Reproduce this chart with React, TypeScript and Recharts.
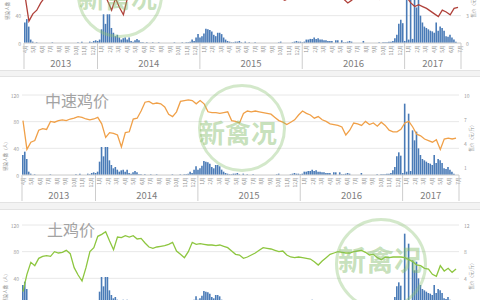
import React from 'react';
import { ComposedChart, Bar, Line, XAxis, YAxis, CartesianGrid } from 'recharts';

// 每周感染人数（2013-04 中旬起，共 222 周）
const CASES = [
  30, 35, 24, 5, 2, 0, 1, 0, 0, 0, 0, 0, 0, 0, 1, 0, 0, 0, 0, 0,
  0, 0, 0, 0, 0, 0, 0, 1, 0, 2, 0, 0, 0, 2, 1, 3, 4, 3, 5, 20,
  42, 28, 42, 42, 22, 15, 10, 12, 8, 5, 7, 8, 5, 8, 3, 2, 4, 6, 4, 1,
  1, 0, 1, 0, 0, 1, 0, 0, 1, 0, 0, 0, 0, 0, 0, 0, 1, 0, 0, 0,
  1, 0, 1, 1, 2, 5, 3, 8, 13, 8, 10, 14, 21, 20, 19, 17, 12, 10, 15, 15,
  13, 8, 5, 3, 2, 1, 1, 2, 2, 3, 1, 0, 2, 0, 1, 0, 0, 1, 0, 0,
  0, 0, 0, 0, 0, 0, 0, 0, 0, 1, 2, 0, 0, 0, 0, 0, 1, 2, 3, 2,
  2, 1, 2, 5, 5, 6, 6, 8, 6, 7, 5, 5, 4, 4, 3, 3, 3, 0, 4, 4,
  0, 4, 1, 1, 2, 3, 2, 0, 0, 0, 0, 0, 3, 0, 0, 0, 0, 0, 0, 0,
  1, 0, 1, 1, 1, 2, 2, 3, 7, 12, 28, 34, 29, 3, 107, 5, 92, 6, 67, 52,
  65, 40, 30, 24, 22, 20, 18, 17, 15, 30, 18, 24, 22, 18, 10, 9, 12, 8, 5, 2, 0, 0,
];

// 售价（元/斤），每两周一个点
const FAST_PRICE = [
  5.2, 2.4, 3.2, 3.6, 4.4, 5.0, 5.1, 5.8, 5.9, 6.0,
  6.1, 6.0, 6.2, 6.3, 6.4, 6.3, 6.2, 6.1, 6.2, 6.3,
  5.6, 4.6, 3.6, 4.9, 3.9, 3.1, 4.9, 5.3, 5.8, 6.0,
  6.6, 7.2, 7.4, 7.1, 7.2, 7.0, 6.8, 6.2, 6.0, 6.5,
  7.3, 7.4, 7.5, 7.3, 7.0, 7.3, 7.0, 6.4, 6.3, 6.3,
  6.2, 6.3, 6.4, 5.5, 5.4, 5.3, 6.1, 6.4, 6.3, 6.4,
  6.3, 6.2, 6.1, 6.0, 5.7, 4.9, 4.7, 4.9, 5.3, 5.6,
  6.0, 6.4, 6.2, 6.0, 5.7, 5.8, 5.5, 5.4, 5.2, 5.1,
  5.0, 4.8, 4.4, 4.7, 5.2, 5.2, 5.0, 5.3, 5.1, 5.2,
  4.8, 5.2, 5.0, 5.0, 5.0, 5.1, 5.2, 5.0, 4.4, 4.0,
  4.2, 4.0, 3.8, 3.5, 3.2, 2.9, 3.6, 3.4, 3.1, 3.8, 3.9,
];

const MID_PRICE = [
  6.8, 3.2, 4.1, 4.3, 5.6, 5.8, 5.7, 6.7, 6.6, 6.8,
  6.9, 6.8, 7.0, 7.1, 7.3, 7.2, 7.0, 6.9, 7.0, 7.2,
  6.4, 4.7, 5.3, 5.2, 5.0, 3.5, 5.3, 5.4, 7.0, 7.1,
  8.0, 9.1, 9.2, 8.9, 9.0, 8.9, 8.5, 7.6, 7.3, 7.9,
  9.2, 9.3, 9.4, 9.3, 8.9, 9.3, 8.9, 7.9, 7.8, 7.8,
  7.7, 7.8, 7.9, 6.8, 6.7, 6.5, 7.7, 8.0, 7.9, 8.0,
  7.9, 7.8, 7.7, 7.6, 7.2, 6.8, 6.6, 6.3, 6.6, 6.9,
  7.5, 8.0, 7.7, 7.5, 7.1, 7.3, 6.9, 6.7, 6.4, 6.3,
  6.2, 6.0, 5.0, 5.6, 6.5, 6.4, 6.2, 6.7, 6.3, 6.5,
  6.1, 6.6, 6.2, 5.6, 5.4, 5.4, 5.7, 6.5, 6.7, 6.0,
  5.1, 4.9, 4.5, 4.3, 4.1, 4.4, 3.2, 4.5, 4.6, 4.5, 4.6,
];

const NATIVE_PRICE = [
  2.0, 4.6, 6.4, 5.9, 7.0, 7.3, 7.4, 7.3, 8.0, 7.8,
  7.9, 8.2, 7.7, 5.6, 4.5, 3.6, 5.6, 8.0, 8.6, 10.3,
  10.6, 11.0, 9.6, 8.3, 10.2, 10.1, 10.4, 10.2, 10.4, 9.9,
  10.0, 9.3, 8.7, 8.5, 8.7, 8.8, 8.9, 9.1, 9.4, 8.1,
  7.6, 7.1, 8.0, 9.4, 9.1, 9.2, 9.1, 9.0, 9.0, 8.9,
  9.0, 8.8, 8.6, 8.1, 7.6, 7.5, 7.0, 7.2, 7.5, 7.8,
  8.2, 8.6, 8.5, 8.4, 8.2, 8.0, 8.1, 7.5, 7.2, 7.1,
  7.2, 7.1, 7.0, 6.9, 6.5, 6.0, 6.6, 7.1, 7.6, 7.8,
  8.0, 7.9, 7.8, 7.8, 8.0, 8.1, 8.2, 7.9, 7.5, 7.6,
  7.1, 6.8, 7.2, 7.1, 7.2, 7.2, 7.2, 7.1, 6.8, 6.5,
  6.0, 5.9, 5.5, 5.4, 4.6, 4.3, 5.9, 5.1, 5.5, 4.9, 5.4,
];

// 月份标签（从 2013 年 4 月起）
const MONTH_LABELS = [
  '4月', '5月', '6月', '7月', '8月', '9月', '10月', '11月', '12月',
  '1月', '2月', '3月', '4月', '5月', '6月', '7月', '8月', '9月', '10月', '11月', '12月',
  '1月', '2月', '3月', '4月', '5月', '6月', '7月', '8月', '9月', '10月', '11月', '12月',
  '1月', '2月', '3月', '4月', '5月', '6月', '7月', '8月', '9月', '10月', '11月', '12月',
  '1月', '2月', '3月', '4月', '5月', '6月', '7月',
];
const YEARS = ['2013', '2014', '2015', '2016', '2017'];
const LEFT_TICKS = [0, 20, 40, 60, 80, 100, 120];

const START_MONTH = 3.38; // 2013-04-12，以 2013-01 为 0
const WEEKS_PER_MONTH = 52 / 12;
const TOTAL_WEEKS = CASES.length;

const CARD_H = 125;
const X_AXIS_H = 27;
const LEFT_W = 22;
const RIGHT_W = 21;
const CHART_W = 480;
const PLOT_W = CHART_W - LEFT_W - RIGHT_W;
const BAND = PLOT_W / TOTAL_WEEKS;

const ROWS = CASES.map((cases, i) => ({
  t: i,
  cases,
  fast: i % 2 === 0 ? FAST_PRICE[i / 2] : null,
  mid: i % 2 === 0 ? MID_PRICE[i / 2] : null,
  native: i % 2 === 0 ? NATIVE_PRICE[i / 2] : null,
}));

type TickItem = { v: number; kind: 'month' | 'sep' | 'year'; label: string };

const yearEdges = [
  0,
  ...YEARS.slice(1).map((_, j) => (12 * (j + 1) - START_MONTH) * WEEKS_PER_MONTH),
  TOTAL_WEEKS,
];
const tickItems: TickItem[] = [
  ...MONTH_LABELS.map((label, n) => ({ v: n * WEEKS_PER_MONTH, kind: 'month' as const, label })),
  ...yearEdges.map((v) => ({ v, kind: 'sep' as const, label: '' })),
  ...YEARS.map((label, j) => ({ v: (yearEdges[j] + yearEdges[j + 1]) / 2, kind: 'year' as const, label })),
];
const TICKS_BY_ROW: TickItem[][] = CASES.map(() => []);
tickItems.forEach((it) => {
  const row = Math.min(TOTAL_WEEKS - 1, Math.floor(it.v));
  TICKS_BY_ROW[row].push(it);
});

const PANELS = [
  {
    key: 'fast', title: '', top: -55, plotTop: 16, plotHeight: 82, shift: 2,
    rightMax: 9, rightTicks: [0, 1, 2, 3, 4, 5, 6, 7, 8, 9], color: '#b0413a',
    titleLeft: 45, titleTop: 14, leftLabelY: 43, rightLabelY: 42,
  },
  {
    key: 'mid', title: '中速鸡价', top: 77, plotTop: 18, plotHeight: 80, shift: 0,
    rightMax: 10, rightTicks: [0, 1, 2, 3, 4, 5, 6, 7, 8, 9, 10], color: '#f0a048',
    titleLeft: 45, titleTop: 14, leftLabelY: 60, rightLabelY: 42,
  },
  {
    key: 'native', title: '土鸡价', top: 210, plotTop: 15, plotHeight: 80, shift: 0,
    rightMax: 12, rightTicks: [0, 2, 4, 6, 8, 10, 12], color: '#8dc63f',
    titleLeft: 47, titleTop: 10, leftLabelY: 62, rightLabelY: 50,
  },
];

const FONT = '"Noto Sans CJK SC", "Noto Sans", sans-serif';

function makeXTick(plotBottom: number) {
  return function XTick(props: any) {
    const row = props.index as number;
    const items = TICKS_BY_ROW[row] || [];
    return (
      <g>
        {items.map((it, j) => {
          const x = props.x + (it.v - (row + 0.5)) * BAND;
          if (it.kind === 'sep') {
            return <line key={j} x1={x} x2={x} y1={plotBottom} y2={plotBottom + 26} stroke="#cdcdcd" />;
          }
          if (it.kind === 'year') {
            return (
              <text key={j} x={x} y={plotBottom + 20} textAnchor="middle" dominantBaseline="central"
                fontSize={9.5} fill="#7d7d7d" fontFamily={FONT}>{it.label}</text>
            );
          }
          return (
            <text key={j} transform={`translate(${x},${plotBottom + 2}) rotate(-90)`} textAnchor="end"
              dominantBaseline="central" fontSize={5} fill="#8f8f8f" fontFamily={FONT}>{it.label}</text>
          );
        })}
      </g>
    );
  };
}

const leftTick = (props: any) => (
  <text x={LEFT_W - 3} y={props.y} textAnchor="end" dominantBaseline="central" fontSize={5} fill="#9b9b9b" fontFamily={FONT}>
    {props.payload.value}
  </text>
);

const rightTick = (props: any) => (
  <text x={CHART_W - RIGHT_W + 5} y={props.y} textAnchor="start" dominantBaseline="central" fontSize={5} fill="#9b9b9b" fontFamily={FONT}>
    {props.payload.value}
  </text>
);

function PricePanel({ cfg }: { cfg: (typeof PANELS)[number] }) {
  const plotBottom = cfg.plotTop + cfg.plotHeight;
  const bottomMargin = CARD_H - plotBottom - X_AXIS_H;
  return (
    <div style={{
      position: 'absolute', left: 0, top: cfg.top, width: CHART_W, height: CARD_H,
      background: '#fff', boxShadow: '0 0 0 1px #e3e3e3',
    }}>
      <div style={{ position: 'absolute', left: cfg.shift, top: 0 }}>
        <ComposedChart width={CHART_W} height={CARD_H} data={ROWS}
          margin={{ top: cfg.plotTop, right: 0, bottom: bottomMargin, left: 0 }}>
          <CartesianGrid yAxisId="left" vertical={false} stroke="#e8e8e8" />
          <XAxis dataKey="t" type="category" interval={0} height={X_AXIS_H} tickLine={false}
            axisLine={{ stroke: '#d6d6d6' }} tick={makeXTick(plotBottom)} />
          <YAxis yAxisId="left" domain={[0, 120]} ticks={LEFT_TICKS} width={LEFT_W}
            axisLine={false} tickLine={false} tick={leftTick} />
          <YAxis yAxisId="right" orientation="right" domain={[0, cfg.rightMax]} ticks={cfg.rightTicks}
            width={RIGHT_W} axisLine={false} tickLine={false} tick={rightTick} />
          <Bar yAxisId="left" dataKey="cases" fill="#4a7bb7" barSize={1.6} isAnimationActive={false} />
          <Line yAxisId="right" type="linear" dataKey={cfg.key} stroke={cfg.color} strokeWidth={1.3}
            dot={false} connectNulls isAnimationActive={false} />
        </ComposedChart>
        <svg width={CHART_W} height={CARD_H} style={{ position: 'absolute', left: 0, top: 0, pointerEvents: 'none' }}>
          <text transform={`translate(5,${cfg.plotTop + cfg.leftLabelY}) rotate(-90)`} textAnchor="middle"
            dominantBaseline="central" fontSize={4.5} fill="#8f8f8f" fontFamily={FONT}>感染人数（人）</text>
          <text transform={`translate(471,${cfg.plotTop + cfg.rightLabelY}) rotate(-90)`} textAnchor="middle"
            dominantBaseline="central" fontSize={4.5} fill="#8f8f8f" fontFamily={FONT}>售价（元/斤）</text>
        </svg>
      </div>
      {cfg.title && (
        <div style={{
          position: 'absolute', left: cfg.titleLeft, top: cfg.titleTop, fontSize: 16, lineHeight: '18px',
          color: '#a3a3a3', fontFamily: FONT, whiteSpace: 'nowrap',
        }}>{cfg.title}</div>
      )}
    </div>
  );
}

function Watermark({ cx, cy, r, tx, ty, size }: { cx: number; cy: number; r: number; tx: number; ty: number; size: number }) {
  return (
    <>
      <div style={{
        position: 'absolute', left: cx - r, top: cy - r, width: 2 * r, height: 2 * r,
        borderRadius: '50%', border: '3px solid rgba(140, 195, 115, 0.38)', boxSizing: 'border-box',
      }} />
      <div style={{
        position: 'absolute', left: tx - 70, top: ty - size / 2, width: 140, textAlign: 'center',
        fontSize: size, lineHeight: `${size}px`, fontWeight: 700, color: 'rgba(130, 188, 105, 0.45)',
        fontFamily: FONT, whiteSpace: 'nowrap',
      }}>新禽况</div>
    </>
  );
}

export default function App() {
  return (
    <div style={{
      position: 'absolute', left: 0, top: 0, width: 480, height: 300, overflow: 'hidden',
      background: '#f3f3f3',
    }}>
      {PANELS.map((cfg) => <PricePanel key={cfg.key} cfg={cfg} />)}
      <Watermark cx={120} cy={-5} r={43} tx={118} ty={-3} size={26} />
      <Watermark cx={242} cy={128} r={44} tx={238} ty={132} size={26} />
      <Watermark cx={381} cy={264} r={46} tx={380} ty={259} size={28} />
    </div>
  );
}
